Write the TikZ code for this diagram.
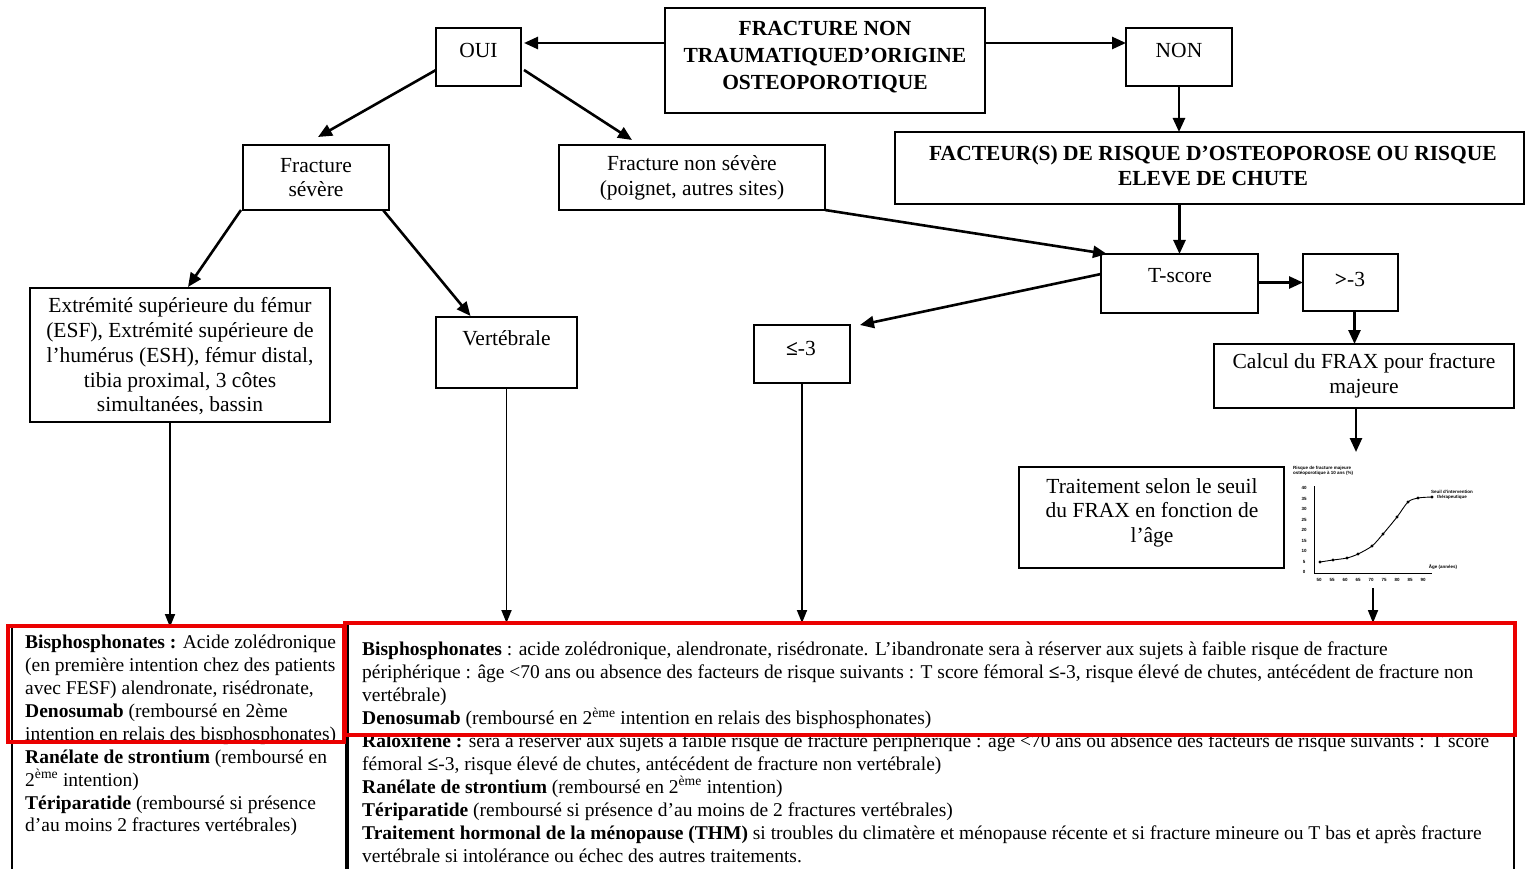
\documentclass[tikz,border=0pt]{standalone}
\usepackage{fontspec}
\setmainfont{Liberation Serif}
\setsansfont{Liberation Sans}
\usetikzlibrary{arrows.meta}
\definecolor{redbox}{RGB}{235,0,0}
\begin{document}
\begin{tikzpicture}[x=1pt,y=-1pt,
  box/.style={draw, line width=1.1pt, inner sep=0pt, outer sep=0pt},
  txt/.style={align=center, inner sep=0pt, font=\fontsize{21.5}{24.75}\selectfont},
  btxt/.style={align=center, inner sep=0pt, font=\fontsize{21.5}{27}\selectfont\bfseries},
  ltxt/.style={align=left, anchor=north west, inner sep=0pt, font=\fontsize{19.5}{22.9}\selectfont},
  arr/.style={-{Triangle[length=14pt,width=12pt]}, line width=2.6pt},
  arrs/.style={-{Triangle[length=13pt,width=10pt]}, line width=1.8pt},
  redb/.style={draw=redbox, line width=4pt},
  tiny/.style={inner sep=0pt, font=\fontsize{4.5}{5}\selectfont\sffamily\bfseries},
]
\useasboundingbox (0,0) rectangle (1526,869);
\clip (0,0) rectangle (1526,869);
\fill[white] (0,0) rectangle (1526,869);

% boxes
\node[box, minimum width=320pt, minimum height=105pt] (title) at (825,60.5) {};
\node[box, minimum width=85pt, minimum height=58pt] (oui) at (478.5,57) {};
\node[box, minimum width=106pt, minimum height=58pt] (non) at (1179,57) {};
\node[box, minimum width=146pt, minimum height=65pt] (fsev) at (316,177.5) {};
\node[box, minimum width=266pt, minimum height=65pt] (fnsev) at (692,177.5) {};
\node[box, minimum width=629pt, minimum height=72pt] (fact) at (1209.5,168) {};
\node[box, minimum width=157pt, minimum height=59pt] (tscore) at (1179.5,283.5) {};
\node[box, minimum width=95pt, minimum height=57pt] (gt3) at (1350.5,282.5) {};
\node[box, minimum width=96pt, minimum height=58pt] (le3) at (802,354) {};
\node[box, minimum width=300pt, minimum height=64pt] (calc) at (1364,376) {};
\node[box, minimum width=265pt, minimum height=101pt] (trait) at (1151.5,517.5) {};
\node[box, minimum width=300pt, minimum height=134pt] (extr) at (180,355) {};
\node[box, minimum width=141pt, minimum height=71pt] (vert) at (506.5,352.5) {};
\node[box, minimum width=334pt, minimum height=260pt] (bl) at (179,757) {};
\node[box, minimum width=1166pt, minimum height=264pt] (br) at (931,755) {};

% box texts
\node[btxt] (titlet) at (825,57) {FRACTURE NON\\TRAUMATIQUED’ORIGINE\\OSTEOPOROTIQUE};
\node[txt] (ouit) at (478.5,50) {OUI};
\node[txt] (nont) at (1179,50) {NON};
\node[txt] (fsevt) at (316,177.5) {Fracture\\sévère};
\node[txt] (fnsevt) at (692,177.5) {Fracture non sévère\\(poignet, autres sites)};
\node[btxt, font=\fontsize{21.5}{25}\selectfont\bfseries] (factt) at (1213,165.5) {FACTEUR(S) DE RISQUE D’OSTEOPOROSE OU RISQUE\\ELEVE DE CHUTE};
\node[txt] (tscoret) at (1180,276) {T-score};
\node[txt] (gt3t) at (1350,279) {\textbf{>}-3};
\node[txt] (le3t) at (801,348) {\textbf{≤}-3};
\node[txt] (calct) at (1364,375.5) {Calcul du FRAX pour fracture\\majeure};
\node[txt, font=\fontsize{21.5}{24.5}\selectfont] (traitt) at (1152,512.5) {Traitement selon le seuil\\du FRAX en fonction de\\l’âge};
\node[txt] (extrt) at (180,356.5) {Extrémité supérieure du fémur\\(ESF), Extrémité supérieure de\\l’humérus (ESH), fémur distal,\\tibia proximal, 3 côtes\\simultanées, bassin};
\node[txt] (vertt) at (506.5,338) {Vertébrale};

% bottom texts
\node[ltxt] (blt) at (25,635) {\textbf{Bisphosphonates :} Acide zolédronique\\
(en première intention chez des patients\\
avec FESF) alendronate, risédronate,\\
\textbf{Denosumab} (remboursé en 2ème\\
intention en relais des bisphosphonates)\\
\textbf{Ranélate de strontium} (remboursé en\\
2\textsuperscript{ème} intention)\\
\textbf{Tériparatide} (remboursé si présence\\
d’au moins 2 fractures vertébrales)};

\node[ltxt] (brt) at (362,642) {\textbf{Bisphosphonates} : acide zolédronique, alendronate, risédronate. L’ibandronate sera à réserver aux sujets à faible risque de fracture\\
périphérique : âge <70 ans ou absence des facteurs de risque suivants : T score fémoral \textbf{≤}-3, risque élevé de chutes, antécédent de fracture non\\
vertébrale)\\
\textbf{Denosumab} (remboursé en 2\textsuperscript{ème} intention en relais des bisphosphonates)\\
\textbf{Raloxifène :} sera à réserver aux sujets à faible risque de fracture périphérique : âge <70 ans ou absence des facteurs de risque suivants : T score\\
fémoral \textbf{≤}-3, risque élevé de chutes, antécédent de fracture non vertébrale)\\
\textbf{Ranélate de strontium} (remboursé en 2\textsuperscript{ème} intention)\\
\textbf{Tériparatide} (remboursé si présence d’au moins de 2 fractures vertébrales)\\
\textbf{Traitement hormonal de la ménopause (THM)} si troubles du climatère et ménopause récente et si fracture mineure ou T bas et après fracture\\
vertébrale si intolérance ou échec des autres traitements.};

% FRAX chart
\coordinate (ch0) at (1314,573);
\coordinate (chTop) at (1356,452);
\coordinate (chBot) at (1373,588);
\draw[line width=1pt] (1314,486) -- (ch0) -- (1432,573);
\draw[line width=0.9pt] plot[smooth, mark=*, mark size=1pt] coordinates {(1320,562) (1333,560) (1347,558) (1358,554) (1372,546) (1383,534) (1397,517) (1408,502) (1418,498) (1432,497)};
\node[tiny, align=left, anchor=north west] (chtitle) at (1293,466) {Risque de fracture majeure\\ostéoporotique à 10 ans (\%)};
\node[tiny, align=center] (chseuil) at (1452,495) {Seuil d’intervention\\thérapeutique};
\node[tiny] (chage) at (1443,567) {Âge (années)};
\foreach \v [count=\i from 0] in {0,5,10,15,20,25,30,35,40}
  \node[tiny] (cy\i) at (1304,572-10.5*\i) {\v};
\foreach \v [count=\i from 0] in {50,55,60,65,70,75,80,85,90}
  \node[tiny] (cx\i) at (1319+13*\i,580) {\v};

% connectors
\draw[arr] ([yshift=17.5pt]title.west) -- ([shift={(3pt,14pt)}]oui.east);
\draw[arr] ([yshift=17.5pt]title.east) -- ([yshift=14pt]non.west);
\draw[arr] (non.south) -- (non.south |- fact.north);
\draw[arr] ([yshift=-13pt]oui.west) -- ([shift={(2pt,8pt)}]fsev.north);
\draw[arr] ([shift={(3pt,-13pt)}]oui.east) -- ([shift={(-60pt,5pt)}]fnsev.north);
\draw[arr] ([xshift=-2pt]fsev.south west) -- ([shift={(8pt,1pt)}]extr.north);
\draw[arr] ([xshift=-6pt]fsev.south east) -- ([shift={(-36pt,1pt)}]vert.north);
\draw[arr] (fnsev.south east) -- ([xshift=6pt]tscore.north west);
\draw[arr] (fact.south -| tscore.north) -- (tscore.north);
\draw[arr] ([yshift=9.5pt]tscore.west) -- ([xshift=10pt]le3.north east);
\draw[arr] (tscore.east |- gt3.west) -- (gt3.west);
\draw[arr] ([xshift=4pt]gt3.south) -- ([xshift=4pt]gt3.south |- calc.north);
\draw[arr] (calc.south -| chTop) -- (chTop);
\coordinate (e1) at ([xshift=-10pt]extr.south);
\draw[arrs] (e1) -- (e1 |- bl.north);
\draw[arrs] (vert.south) -- (vert.south |- br.north);
\draw[arrs] (le3.south) -- (le3.south |- br.north);
\draw[arrs] (chBot) -- (chBot |- br.north);

% red highlight boxes
\node[redb, minimum width=336pt, minimum height=116pt, inner sep=0pt] (redl) at (176,684) {};
\node[redb, minimum width=1170pt, minimum height=112pt, inner sep=0pt] (redr) at (929.5,679) {};
\end{tikzpicture}
\end{document}
